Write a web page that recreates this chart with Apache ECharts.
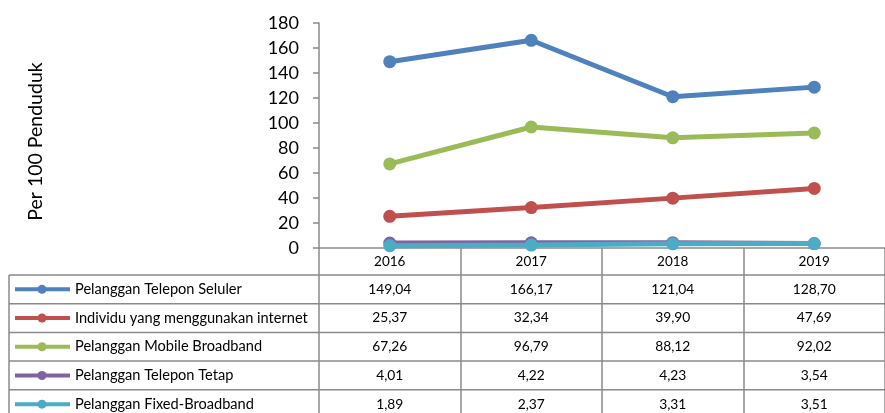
<!DOCTYPE html>
<html><head><meta charset="utf-8">
<script src="https://cdn.jsdelivr.net/npm/echarts@6/dist/echarts.min.js"></script>
<style>html,body{margin:0;padding:0;background:#fff}#c{width:885px;height:413px}</style>
</head><body><div id="c"></div>
<script>
var years = ['2016','2017','2018','2019'];
var seriesNames = ['Pelanggan Telepon Seluler','Individu yang menggunakan internet','Pelanggan Mobile Broadband','Pelanggan Telepon Tetap','Pelanggan Fixed-Broadband'];
var seluler = [149.04,166.17,121.04,128.70];
var internet = [25.37,32.34,39.90,47.69];
var mobileBB = [67.26,96.79,88.12,92.02];
var telTetap = [4.01,4.22,4.23,3.54];
var fixedBB = [1.89,2.37,3.31,3.51];
var yTicks = [0,20,40,60,80,100,120,140,160,180];
var colors = ['#4F81BD','#C0504D','#9BBB59','#8064A2','#4BACC6'];
var allData = [seluler, internet, mobileBB, telTetap, fixedBB];

var FONT = 'Lato';
var gridLeft = 319, gridTop = 23, gridBottom = 165, gridWidth = 578;
var lineCol = '#8a8a8a';
var chart = echarts.init(document.getElementById('c'));
var option = {
  animation:false,
  grid:{left:gridLeft, top:gridTop, bottom:gridBottom, width:gridWidth},
  xAxis:{type:'category', data:years, boundaryGap:true,
    axisLine:{lineStyle:{color:lineCol,width:1.5}},
    axisTick:{show:true, interval:0, length:170, lineStyle:{color:lineCol,width:1.5}},
    axisLabel:{color:'#000', fontFamily:FONT, fontSize:13.5, margin:7}},
  yAxis:{type:'value', min:yTicks[0], max:yTicks[yTicks.length-1], interval:20,
    name:'Per 100 Penduduk', nameLocation:'middle', nameGap:273, nameRotate:90,
    nameTextStyle:{color:'#000', fontFamily:FONT, fontSize:19.5, padding:[0,12,0,0]},
    axisLine:{show:true, lineStyle:{color:lineCol,width:1.5}},
    axisTick:{show:true, length:6, lineStyle:{color:lineCol,width:1.5}},
    splitLine:{show:false},
    axisLabel:{color:'#000', fontFamily:FONT, fontSize:18, margin:20}},
  series: seriesNames.map(function(n,i){
    return {name:n, type:'line', data:allData[i], symbol:'circle', symbolSize:13,
      itemStyle:{color:colors[i]}, lineStyle:{color:colors[i], width:5}, z:2+i};
  })
};
chart.setOption(option);

// table below the chart
var rowTop = 275, rowH = 28.7;
var g = [];
for (var r=0; r<=5; r++){
  var yy = rowTop + r*rowH;
  g.push({type:'line', shape:{x1:9,y1:yy,x2:885,y2:yy}, style:{stroke:lineCol,lineWidth:1.5}});
}
g.push({type:'line', shape:{x1:9,y1:rowTop,x2:9,y2:413}, style:{stroke:lineCol,lineWidth:1.5}});
seriesNames.forEach(function(n,i){
  var cy = rowTop + (i+0.5)*rowH;
  g.push({type:'line', shape:{x1:15,y1:cy,x2:70,y2:cy}, style:{stroke:colors[i],lineWidth:4}});
  g.push({type:'circle', shape:{cx:42,cy:cy,r:4.5}, style:{fill:colors[i]}});
  g.push({type:'text', x:75, y:cy, style:{text:n, fill:'#000', font:'14.6px '+FONT, verticalAlign:'middle', align:'left'}});
  years.forEach(function(yr,j){
    var px = chart.convertToPixel({xAxisIndex:0}, yr);
    g.push({type:'text', x:px, y:cy, style:{text:allData[i][j].toFixed(2).replace('.',','), fill:'#000', font:'13.8px '+FONT, verticalAlign:'middle', align:'center'}});
  });
});
chart.setOption({graphic:g});
</script></body></html>
